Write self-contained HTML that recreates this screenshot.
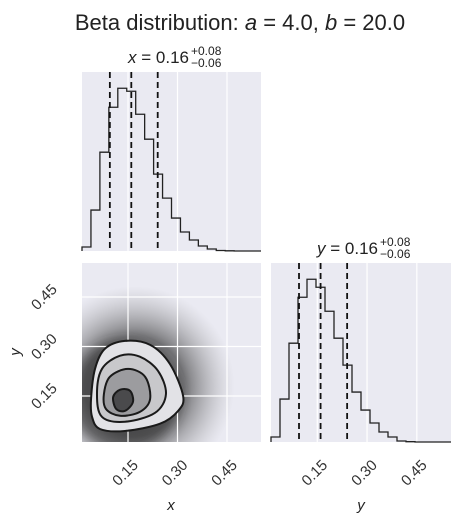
<!DOCTYPE html>
<html><head><meta charset="utf-8"><style>
body{margin:0;background:#fff;}
svg{display:block;font-family:"Liberation Sans","DejaVu Sans",sans-serif;}
</style></head><body>
<svg id="c" width="463" height="524"></svg>
<script>
const xHistCounts=[4,41,99,144,163,160,137,112,77,53,33,19,11,5,2,0.5,0.2,0,0,0];
const yHistCounts=[5,43,99,145,163,155,131,104,77,50,32,19,10,5,1,0.3,0,0,0,0];
const quantiles=[0.095,0.16,0.24];
const ticks=[0.15,0.30,0.45];
const tickLabels=["0.15","0.30","0.45"];
const range=[0.0106,0.553];
const contourOuter=[[0.038,0.141],[0.050,0.232],[0.080,0.293],[0.141,0.317],[0.217,0.305],[0.277,0.247],[0.317,0.150],[0.302,0.105],[0.247,0.066],[0.141,0.044],[0.065,0.050],[0.041,0.087]];
const contour2=[[0.056,0.156],[0.071,0.232],[0.126,0.272],[0.186,0.269],[0.241,0.226],[0.265,0.156],[0.232,0.099],[0.141,0.072],[0.071,0.087]];
const contour3=[[0.077,0.156],[0.095,0.208],[0.150,0.232],[0.202,0.208],[0.217,0.141],[0.186,0.102],[0.126,0.090],[0.083,0.111]];
const contour4=[[0.105,0.147],[0.126,0.169],[0.156,0.166],[0.165,0.132],[0.141,0.105],[0.114,0.111]];
const NS="http://www.w3.org/2000/svg";
const svg=document.getElementById('c');
function el(t,a,p){const e=document.createElementNS(NS,t);for(const k in a)e.setAttribute(k,a[k]);(p||svg).appendChild(e);return e;}
const P={tl:[82,72,261,251],bl:[82,263,261,442],br:[271,263,451,442]};
function sx(p,v){return p[0]+(v-range[0])/(range[1]-range[0])*(p[2]-p[0]);}
function sy(p,v){return p[3]-(v-range[0])/(range[1]-range[0])*(p[3]-p[1]);}
const defs=el('defs',{});
defs.innerHTML='<radialGradient id="cloud" cx="50%" cy="50%" r="50%"><stop offset="0" stop-color="#222" stop-opacity="0.9"/><stop offset="0.5" stop-color="#333" stop-opacity="0.8"/><stop offset="0.75" stop-color="#666" stop-opacity="0.4"/><stop offset="1" stop-color="#999" stop-opacity="0"/></radialGradient><filter id="bl"><feGaussianBlur stdDeviation="6"/></filter>';
function panel(name,p){
  const r=el('rect',{x:p[0],y:p[1],width:p[2]-p[0],height:p[3]-p[1],fill:'#EAEAF2'});
  
  
}
function gridV(p,name){ticks.forEach(t=>{const l=el('line',{x1:sx(p,t),x2:sx(p,t),y1:p[1],y2:p[3],stroke:'#fff','stroke-width':1.2});});}
function gridH(p,name){ticks.forEach(t=>{const l=el('line',{x1:p[0],x2:p[2],y1:sy(p,t),y2:sy(p,t),stroke:'#fff','stroke-width':1.2});});}
function hist(p,counts,name){
  const max=Math.max(...counts)*1.1;const n=counts.length;const w=(p[2]-p[0])/n;
  let d='M'+p[0]+','+p[3];
  counts.forEach((c,i)=>{const y=p[3]-c/max*(p[3]-p[1]);d+=' L'+(p[0]+i*w)+','+y+' L'+(p[0]+(i+1)*w)+','+y;});
  const h=el('path',{d:d,fill:'none',stroke:'#222','stroke-width':1.3});
  
  quantiles.forEach(q=>{const l=el('line',{x1:sx(p,q),x2:sx(p,q),y1:p[1],y2:p[3],stroke:'#111','stroke-width':1.8,'stroke-dasharray':'6,4'});});
}
function smooth(pts,p){
  const q=pts.map(a=>[sx(p,a[0]),sy(p,a[1])]);const n=q.length;let d='M'+q[0][0]+','+q[0][1];
  for(let i=0;i<n;i++){const p0=q[(i-1+n)%n],p1=q[i],p2=q[(i+1)%n],p3=q[(i+2)%n];
    d+=' C'+(p1[0]+(p2[0]-p0[0])/6)+','+(p1[1]+(p2[1]-p0[1])/6)+' '+(p2[0]-(p3[0]-p1[0])/6)+','+(p2[1]-(p3[1]-p1[1])/6)+' '+p2[0]+','+p2[1];}
  return d+'Z';
}
function txt(x,y,s,size,attrs,name){const t=el('text',Object.assign({x:x,y:y,'font-size':size,fill:'#222','text-anchor':'middle'},attrs||{}));t.innerHTML=s;return t;}

panel('x-hist',P.tl);gridV(P.tl,'x-hist');hist(P.tl,xHistCounts,'x-histogram');
panel('y-hist',P.br);gridV(P.br,'y-hist');hist(P.br,yHistCounts,'y-histogram');
const p=P.bl;panel('scatter',p);
const cp=el('clipPath',{id:'clipbl'},defs);el('rect',{x:p[0],y:p[1],width:p[2]-p[0],height:p[3]-p[1]},cp);
const g=el('g',{'clip-path':'url(#clipbl)'});

el('ellipse',{cx:sx(p,0.17),cy:sy(p,0.18),rx:100,ry:100,fill:'url(#cloud)',opacity:0.8},g);
el('ellipse',{cx:sx(p,0.14),cy:sy(p,0.15),rx:55,ry:55,fill:'#2a2a2a',opacity:0.55,filter:'url(#bl)'},g);
gridV(p,'scatter');gridH(p,'scatter');
const fills=['#e2e2e6','#c8c8cb','#9c9c9f','#4a4a4c'];
[contourOuter,contour2,contour3,contour4].forEach((c,i)=>{
  const pa=el('path',{d:smooth(c,p),fill:fills[i],stroke:'#1a1a1a','stroke-width':2});
  
});
ticks.forEach((t,i)=>{
  [[P.bl,'x-tick-label'],[P.br,'y-hist-tick-label']].forEach(([pp,n])=>{
    const x=sx(pp,t)+11,y=pp[3]+24;
    txt(x,y,tickLabels[i],15,{'text-anchor':'end',transform:'rotate(-45 '+x+' '+y+')',fill:'#333'},n);
  });
  const y=sy(P.bl,t);
  txt(P.bl[0]-38,y+5,tickLabels[i],15,{transform:'rotate(-45 '+(P.bl[0]-38)+' '+y+')',fill:'#333'},'y-tick-label');
});
txt(171,510,'<tspan font-style="italic">x</tspan>',15,{},'x-axis-title');
txt(361,510,'<tspan font-style="italic">y</tspan>',15,{},'y-hist-axis-title');
txt(20,352,'<tspan font-style="italic">y</tspan>',15,{transform:'rotate(-90 20 352)'},'y-axis-title');
txt(240,30,'Beta distribution: <tspan font-style="italic">a</tspan> = 4.0, <tspan font-style="italic">b</tspan> = 20.0',22,{},'chart-title');
txt(189,63,'<tspan font-style="italic">x</tspan> = 0.16',17,{'text-anchor':'end'},'x-summary-title');
txt(191,55,'+0.08',12,{'text-anchor':'start'},'x-summary-upper');
txt(191,67,'−0.06',12,{'text-anchor':'start'},'x-summary-lower');
txt(378,254,'<tspan font-style="italic">y</tspan> = 0.16',17,{'text-anchor':'end'},'y-summary-title');
txt(380,246,'+0.08',12,{'text-anchor':'start'},'y-summary-upper');
txt(380,258,'−0.06',12,{'text-anchor':'start'},'y-summary-lower');
</script>
</body></html>
